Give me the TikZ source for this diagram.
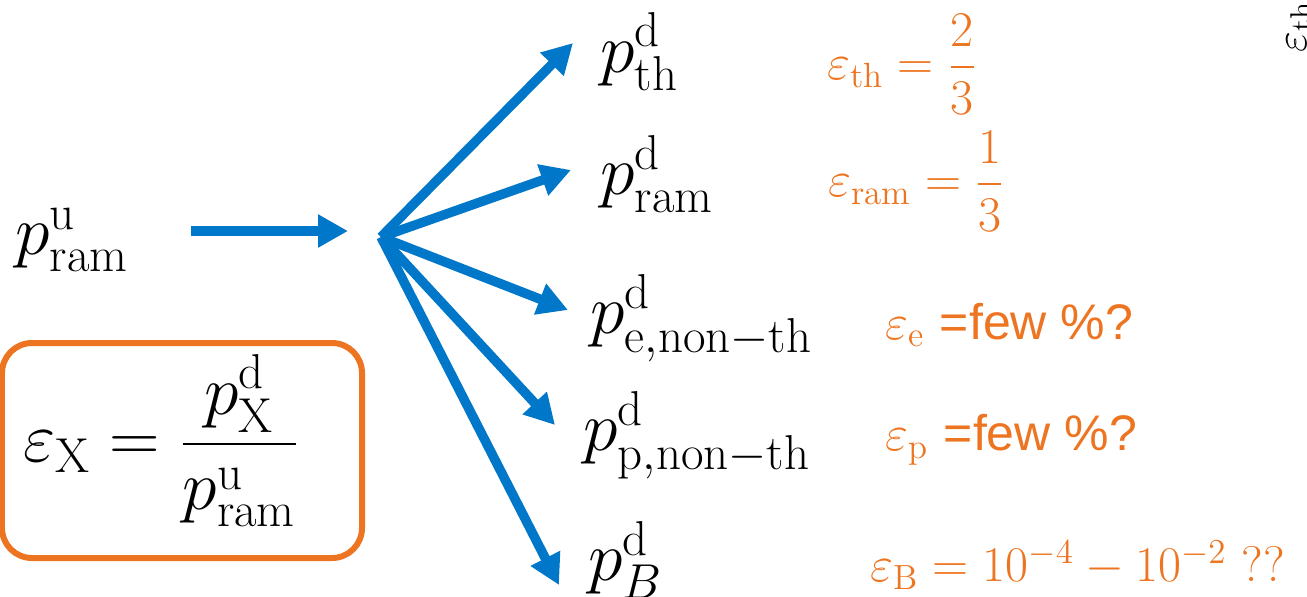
\RequirePackage{fix-cm}
\documentclass[tikz,border=0pt]{standalone}
\usepackage{amsmath}
\usepackage{fontspec}
\usepackage{xcolor}
\usepackage{tikz}
\usetikzlibrary{arrows.meta,positioning}
\newfontfamily\arialfont{Liberation Sans}
\definecolor{effblue}{HTML}{0077C8}
\definecolor{efforange}{HTML}{ED7420}

\begin{document}
\begin{tikzpicture}[
    x=0.4pt, y=-0.4pt,
    lbl/.style={inner sep=0pt, anchor=west, font=\fontsize{28}{32}\selectfont},
    eff/.style={inner sep=0pt, anchor=west, text=efforange,
                font=\fontsize{20}{24}\selectfont},
    defbox/.style={draw=efforange, line width=2.4pt, rounded corners=12pt,
                minimum width=144pt, minimum height=86pt, inner sep=0pt},
    arr/.style={-{Triangle[length=12pt, width=12.5pt]}, line width=3.8pt, effblue},
]
    \useasboundingbox (0,0) rectangle (1307,596);

    % incoming power
    \node[lbl] (pu) at (15,240) {$p^{\mathrm{u}}_{\mathrm{ram}}$};
    \coordinate (hub) at (381,237);
    \coordinate (hubin) at (348,231);
    \draw[arr] (191,231) -- (hubin);

    % downstream powers
    \node[lbl] (pth) at (600,52) {$p^{\mathrm{d}}_{\mathrm{th}}$};
    \node[lbl] (pram) at (600,174) {$p^{\mathrm{d}}_{\mathrm{ram}}$};
    \node[lbl] (pent) at (590,318) {$p^{\mathrm{d}}_{\mathrm{e,non}-\mathrm{th}}$};
    \node[lbl] (ppnt) at (583,435) {$p^{\mathrm{d}}_{\mathrm{p,non}-\mathrm{th}}$};
    \node[lbl] (pB) at (588,560) {$p^{\mathrm{d}}_{B}$};

    \coordinate (tth) at (573,43);
    \coordinate (tram) at (571,170);
    \coordinate (tent) at (568,310);
    \coordinate (tpnt) at (555,425);
    \coordinate (tB) at (559,585);
    \foreach \t in {tth,tram,tent,tpnt,tB}
        \draw[arr] (hub) -- (\t);

    % efficiencies
    \node[eff] (effth) at (827,64) {$\varepsilon_{\mathrm{th}} = \dfrac{2}{3}$};
    \node[eff] (effram) at (828,181) {$\varepsilon_{\mathrm{ram}} = \dfrac{1}{3}$};
    \node[eff] (effe) at (885,325) {$\varepsilon_{\mathrm{e}}$ {\arialfont =few \%?}};
    \node[eff] (effp) at (885,440) {$\varepsilon_{\mathrm{p}}$ {\arialfont =few \%?}};
    \node[eff] (effB) at (870,565) {$\varepsilon_{\mathrm{B}} = 10^{-4} - 10^{-2}$ ??};

    % definition box
    \node[defbox] (box) at (182,450.5) {};
    \node[lbl, anchor=center] (def) at (161,441)
        {$\varepsilon_{\mathrm{X}} = \dfrac{p^{\mathrm{d}}_{\mathrm{X}}}{p^{\mathrm{u}}_{\mathrm{ram}}}$};

    % cut-off label at the edge
    \node[inner sep=0pt, anchor=base west, rotate=90, font=\fontsize{18}{22}\selectfont]
        (edge) at (1306,53) {$\varepsilon_{\mathrm{th}}$};
\end{tikzpicture}
\end{document}
